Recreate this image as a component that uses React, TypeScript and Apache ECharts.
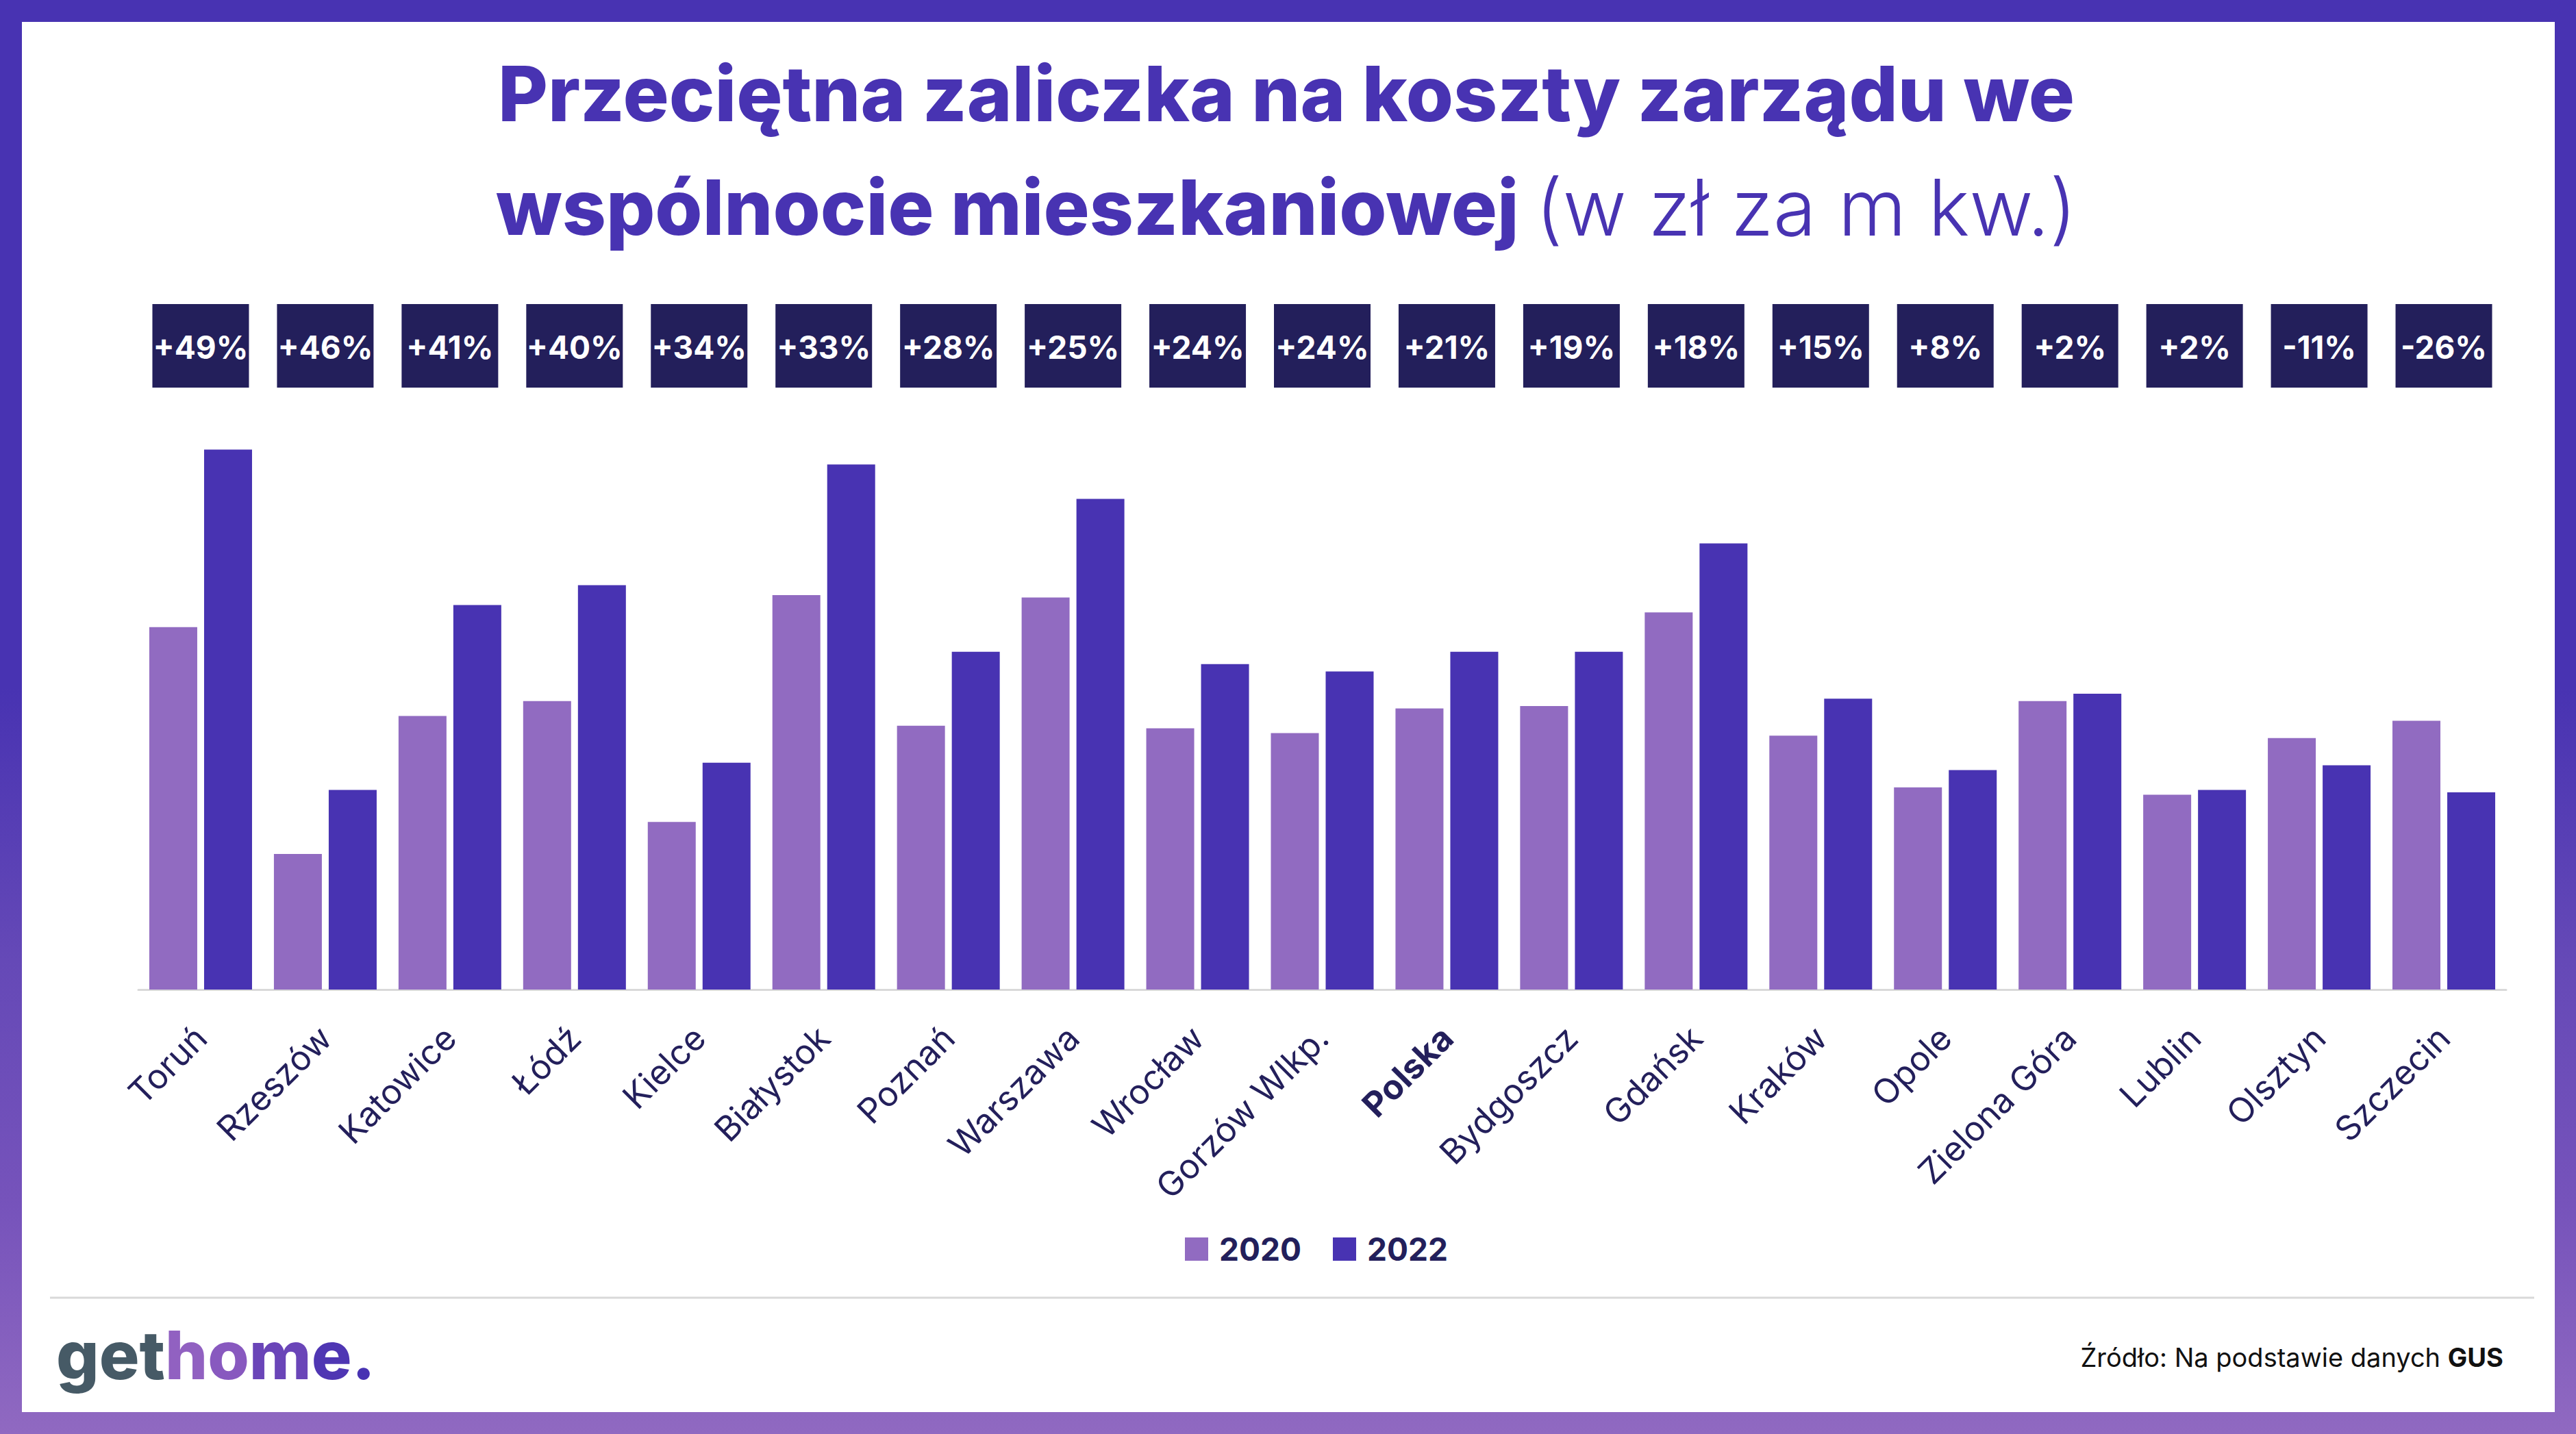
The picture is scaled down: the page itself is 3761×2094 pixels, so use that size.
import React, { useEffect, useRef } from 'react';
import * as echarts from 'echarts';

const categories = ['Toruń', 'Rzeszów', 'Katowice', 'Łódź', 'Kielce', 'Białystok', 'Poznań', 'Warszawa', 'Wrocław', 'Gorzów Wlkp.', 'Polska', 'Bydgoszcz', 'Gdańsk', 'Kraków', 'Opole', 'Zielona Góra', 'Lublin', 'Olsztyn', 'Szczecin'];
const values2020 = [1.47, 0.55, 1.11, 1.17, 0.68, 1.60, 1.07, 1.59, 1.06, 1.04, 1.14, 1.15, 1.53, 1.03, 0.82, 1.17, 0.79, 1.02, 1.09];
const values2022 = [2.19, 0.81, 1.56, 1.64, 0.92, 2.13, 1.37, 1.99, 1.32, 1.29, 1.37, 1.37, 1.81, 1.18, 0.89, 1.20, 0.81, 0.91, 0.80];
const changeLabels = ['+49%', '+46%', '+41%', '+40%', '+34%', '+33%', '+28%', '+25%', '+24%', '+24%', '+21%', '+19%', '+18%', '+15%', '+8%', '+2%', '+2%', '-11%', '-26%'];
const seriesNames = ['2020', '2022'];

const FONT = 'Inter, "Noto Sans", sans-serif';
const NAVY = '#231F5B';
const TITLE_C = '#4833B2';
const C2020 = '#916BC1';
const C2022 = '#4833B2';

const logoStyle = (c: string) => ({ fontSize: 98, fontWeight: 800, fontFamily: FONT, fill: c, color: c });

export default function App() {
  const ref = useRef<HTMLDivElement>(null);
  useEffect(() => {
    const chart = echarts.init(ref.current!, null, { renderer: 'svg' });
    const option: any = {
      animation: false,
      backgroundColor: 'transparent',
      graphic: [
        {
          type: 'rect', z: -10, silent: true,
          shape: { x: 0, y: 0, width: 3761, height: 2094 },
          style: {
            fill: new echarts.graphic.LinearGradient(0, 0, 0, 1, [
              { offset: 0, color: '#4833B2' },
              { offset: 0.48, color: '#4833B2' },
              { offset: 0.67, color: '#6549B7' },
              { offset: 0.84, color: '#7653BB' },
              { offset: 1, color: '#9069C1' },
            ]),
          },
        },
        { type: 'rect', z: -9, silent: true, shape: { x: 32, y: 32, width: 3698, height: 2030 }, style: { fill: '#ffffff' } },
        {
          type: 'text', z: 10, silent: true,
          style: {
            text: '{b|Przeciętna zaliczka na koszty zarządu we}\n{b|wspólnocie mieszkaniowej }{n|(w zł za m kw.)}',
            x: 1878, y: 53, align: 'center', verticalAlign: 'top',
            rich: {
              b: { fontSize: 112, fontWeight: 800, fontFamily: FONT, fill: TITLE_C, color: TITLE_C, lineHeight: 166, align: 'center' },
              n: { fontSize: 114, fontWeight: 300, fontFamily: FONT, fill: TITLE_C, color: TITLE_C, lineHeight: 166, align: 'center' },
            },
          },
        },
        { type: 'line', silent: true, shape: { x1: 73, y1: 1895, x2: 3700, y2: 1895 }, style: { stroke: '#D9D9D9', lineWidth: 3 } },
        {
          type: 'text', silent: true,
          style: {
            text: '{g|get}{h|h}{o|o}{m|m}{e|e}{d|.}',
            x: 82, y: 1978, align: 'left', verticalAlign: 'middle',
            rich: {
              g: logoStyle('#465A66'),
              h: logoStyle('#9161C1'),
              o: logoStyle('#8859BF'),
              m: logoStyle('#6A45B8'),
              e: logoStyle('#4F36B3'),
              d: logoStyle('#4833B2'),
            },
          },
        },
        {
          type: 'text', silent: true,
          style: {
            text: '{n|Źródło: Na podstawie danych }{b|GUS}',
            x: 3655, y: 1982, align: 'right', verticalAlign: 'middle',
            rich: {
              n: { fontSize: 38, fontFamily: FONT, fill: '#111111', color: '#111111' },
              b: { fontSize: 38, fontWeight: 'bold', fontFamily: FONT, fill: '#111111', color: '#111111' },
            },
          },
        },
      ],
      legend: {
        data: seriesNames,
        left: 1725, top: 1796,
        itemWidth: 34, itemHeight: 34, itemGap: 46, icon: 'rect',
        textStyle: { fontSize: 46, fontWeight: 'bold', color: NAVY, fontFamily: FONT, padding: [0, 0, 0, 11] },
      },
      grid: { left: 202, right: 102, top: 365, bottom: 649, containLabel: false },
      xAxis: {
        type: 'category',
        data: categories,
        axisLine: { lineStyle: { color: '#D9D9D9', width: 3 } },
        axisTick: { show: false },
        axisLabel: {
          interval: 0, rotate: 45, margin: 62, align: 'right', verticalAlign: 'middle',
          color: NAVY, fontSize: 50, fontFamily: FONT,
          formatter: (v: string) => (v === 'Polska' ? `{b|${v}}` : v),
          rich: { b: { fontWeight: 'bold', fontSize: 50, color: NAVY, fontFamily: FONT } },
        },
      },
      yAxis: { type: 'value', min: 0, max: 3, show: false, splitLine: { show: false } },
      series: [
        { type: 'bar', name: seriesNames[0], data: values2020, barWidth: 70, barGap: '14.3%', itemStyle: { color: C2020 } },
        { type: 'bar', name: seriesNames[1], data: values2022, barWidth: 70, barGap: '14.3%', itemStyle: { color: C2022 } },
        {
          type: 'custom', name: 'zmiana', coordinateSystem: 'cartesian2d', silent: true, clip: false, z: 5,
          data: categories.map((_, i) => [i, 0]),
          encode: { x: 0, y: 1 },
          renderItem: (params: any, api: any) => {
            const i = api.value(0);
            const x = api.coord([i, 0])[0];
            return {
              type: 'group',
              children: [
                { type: 'rect', shape: { x: x - 70.5, y: 444, width: 141, height: 122 }, style: { fill: NAVY } },
                {
                  type: 'text',
                  style: {
                    text: changeLabels[i], x, y: 507, align: 'center', verticalAlign: 'middle',
                    fill: '#ffffff', fontSize: 46, fontWeight: 'bold', fontFamily: FONT,
                  },
                },
              ],
            };
          },
        },
      ],
    };
    chart.setOption(option);
    return () => chart.dispose();
  }, []);
  return <div ref={ref} style={{ position: 'absolute', left: 0, top: 0, width: 3761, height: 2094 }} />;
}
